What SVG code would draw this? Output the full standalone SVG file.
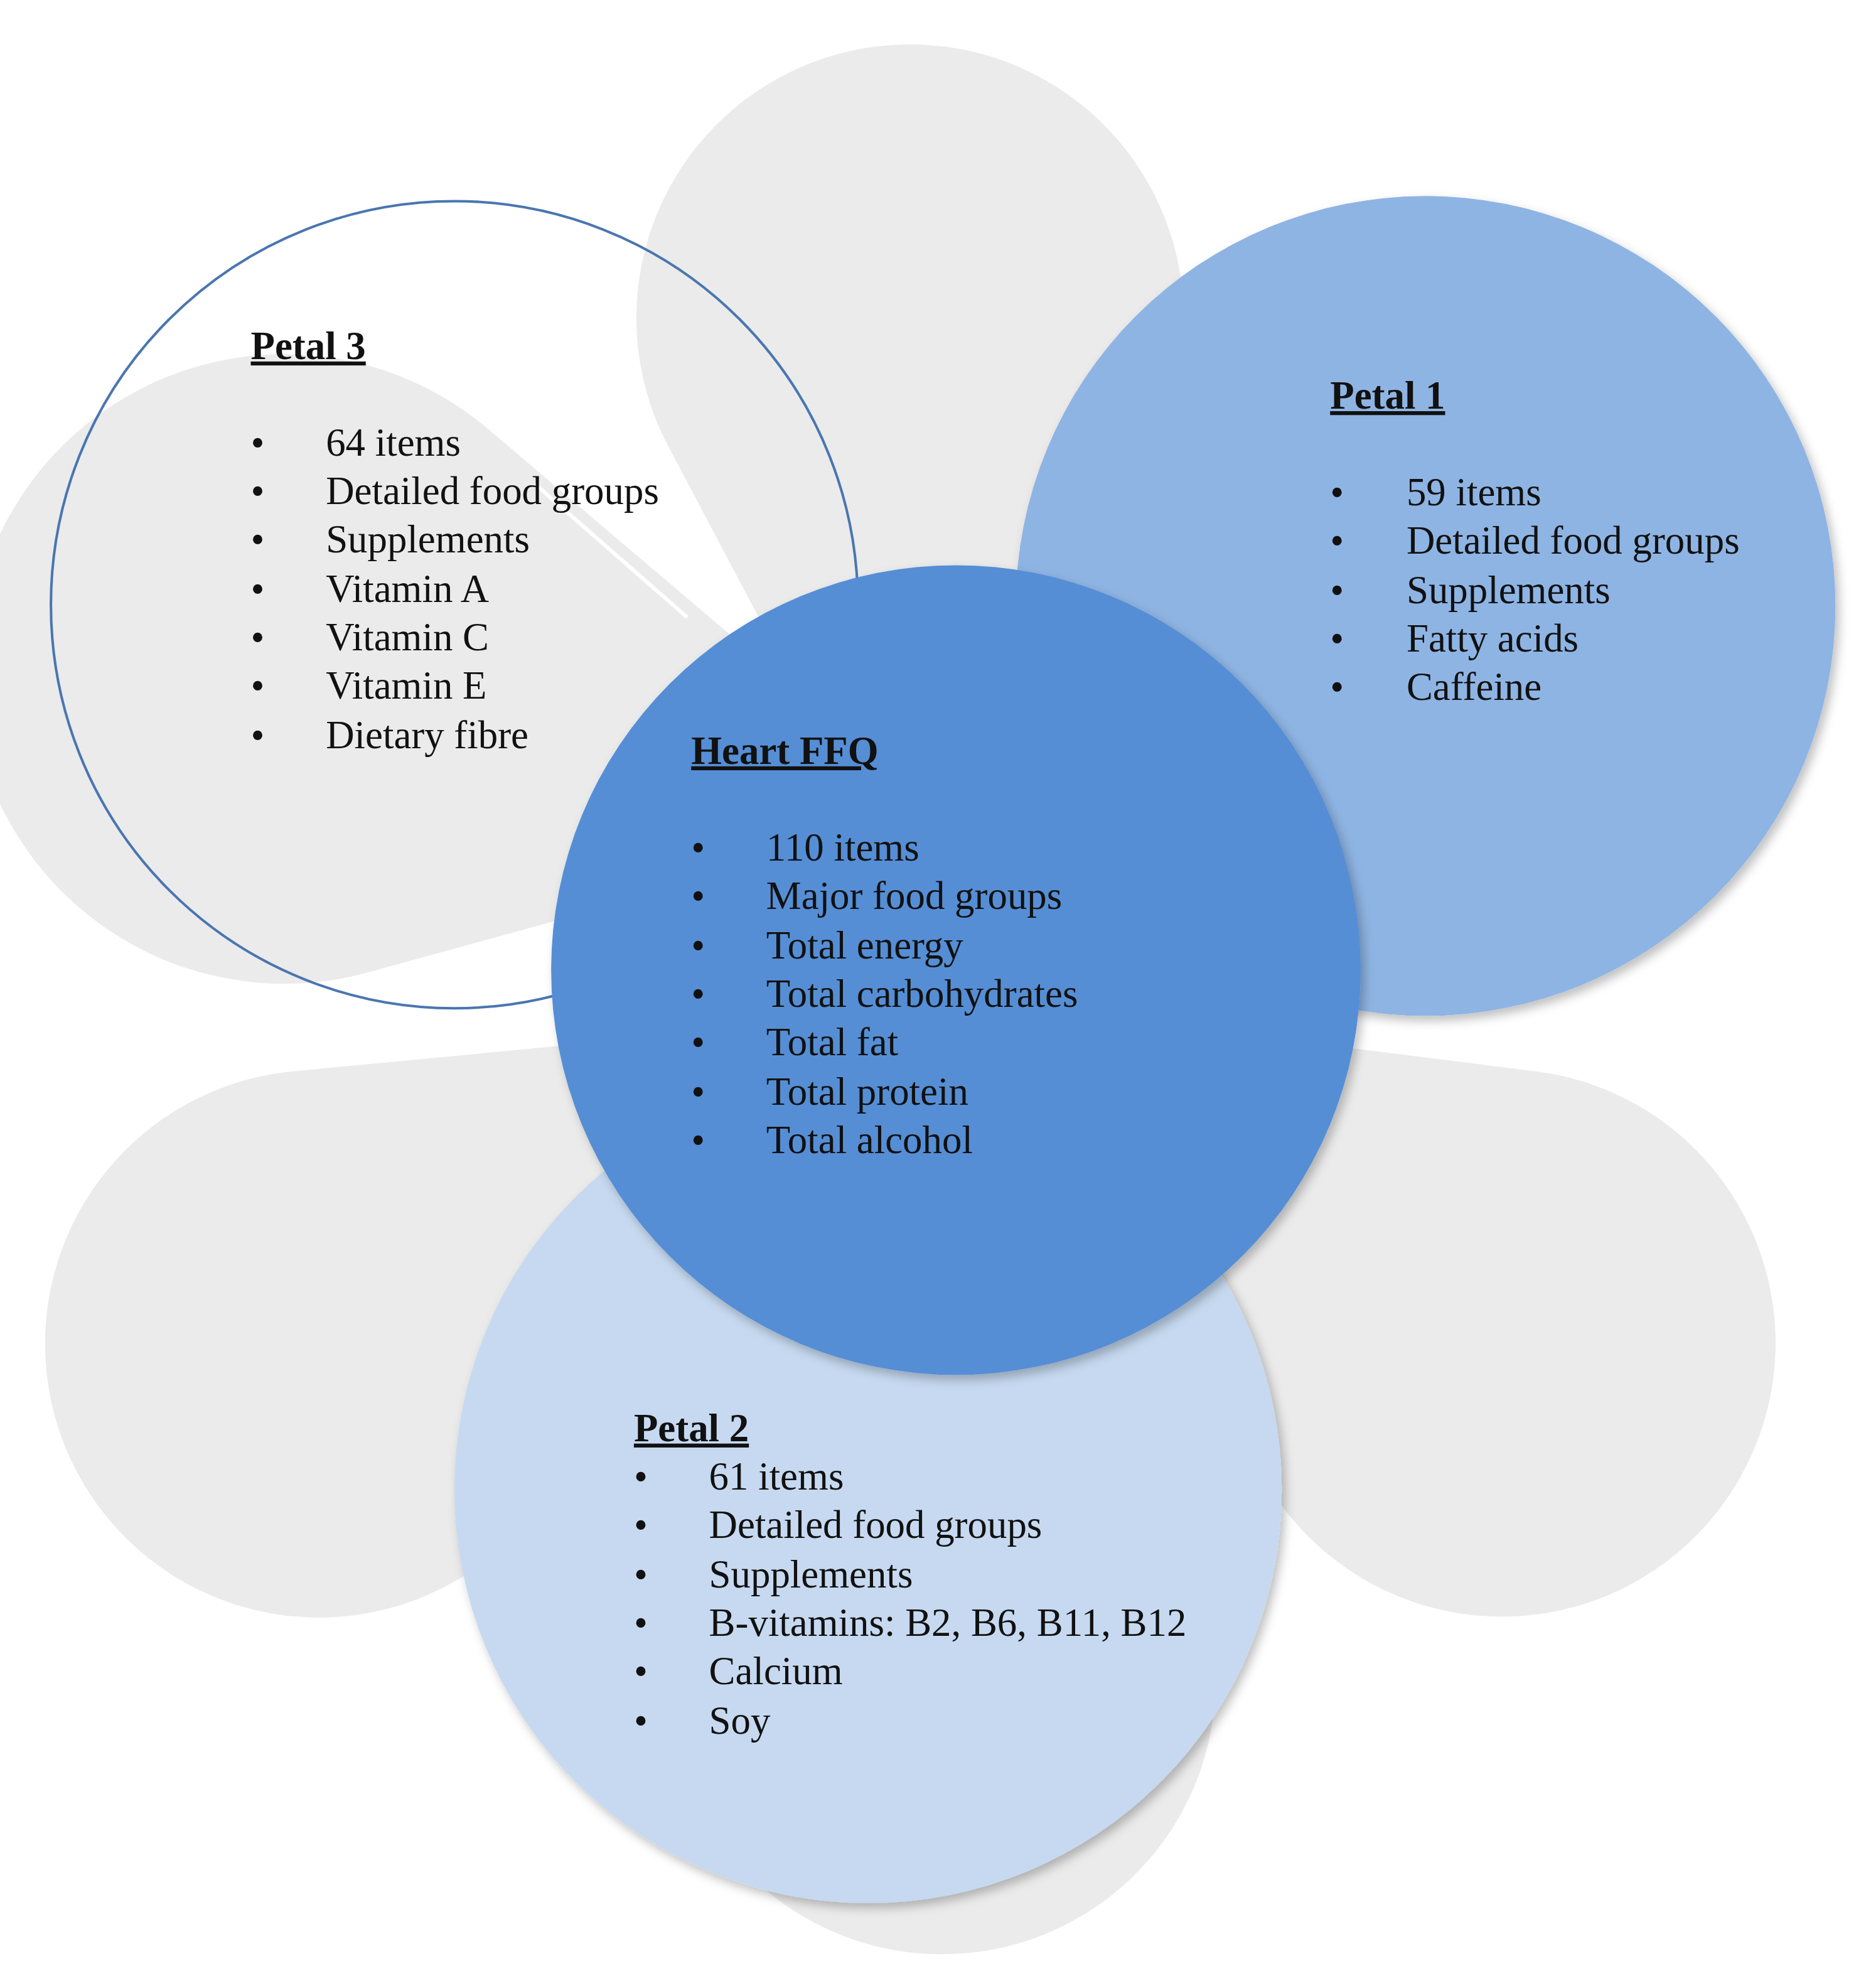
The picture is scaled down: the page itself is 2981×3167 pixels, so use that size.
<svg xmlns="http://www.w3.org/2000/svg" width="2981" height="3167" viewBox="0 0 2981 3167">
<style>
.t{font-family:"Liberation Serif","DejaVu Serif",serif;font-size:31px;fill:#111}
.h{font-weight:bold;text-decoration:underline}
</style>
<defs>
<path id="tear" d="M0,0 L-190,-359.5 A215,215 0 1 1 190,-359.5 Z" fill="#ebebeb"/>
<filter id="sh" x="-10%" y="-10%" width="120%" height="120%"><feDropShadow dx="3" dy="4" stdDeviation="4" flood-color="#000" flood-opacity="0.25"/></filter>
</defs>
<rect width="2981" height="3167" fill="#fff"/>
<g transform="scale(2.028)">
<g id="flower">
<use href="#tear" transform="translate(715,710)"/>
<use href="#tear" transform="translate(740,640) rotate(-77.5) scale(1.15)"/>
<use href="#tear" transform="translate(740,640) rotate(77.5)"/>
<use href="#tear" transform="translate(635,803) rotate(-123.3)"/>
<use href="#tear" transform="translate(803,791) rotate(125)"/>
<use href="#tear" transform="translate(740,860) rotate(180)"/>
<path d="M420,380 L540,485" stroke="#fff" stroke-width="3"/>
</g>
<g id="petal3">
<circle cx="357" cy="475" r="317" fill="none" stroke="#4a76b0" stroke-width="2"/>
<text class="t h" x="197" y="282">Petal 3</text>
<g class="t">
<text x="197" y="358">•</text><text x="256" y="358">64 items</text>
<text x="197" y="396">•</text><text x="256" y="396">Detailed food groups</text>
<text x="197" y="434">•</text><text x="256" y="434">Supplements</text>
<text x="197" y="473">•</text><text x="256" y="473">Vitamin A</text>
<text x="197" y="511">•</text><text x="256" y="511">Vitamin C</text>
<text x="197" y="549">•</text><text x="256" y="549">Vitamin E</text>
<text x="197" y="588">•</text><text x="256" y="588">Dietary fibre</text>
</g>
</g>
<g id="petal1">
<circle cx="1120" cy="476" r="322" fill="#8eb4e3" filter="url(#sh)"/>
<text class="t h" x="1045" y="321">Petal 1</text>
<g class="t">
<text x="1045" y="397">•</text><text x="1105" y="397">59 items</text>
<text x="1045" y="435">•</text><text x="1105" y="435">Detailed food groups</text>
<text x="1045" y="474">•</text><text x="1105" y="474">Supplements</text>
<text x="1045" y="512">•</text><text x="1105" y="512">Fatty acids</text>
<text x="1045" y="550">•</text><text x="1105" y="550">Caffeine</text>
</g>
</g>
<g id="petal2">
<circle cx="682" cy="1170" r="325" fill="#c6d9f0" filter="url(#sh)"/>
<text class="t h" x="498" y="1132">Petal 2</text>
<g class="t">
<text x="498" y="1170">•</text><text x="557" y="1170">61 items</text>
<text x="498" y="1208">•</text><text x="557" y="1208">Detailed food groups</text>
<text x="498" y="1247">•</text><text x="557" y="1247">Supplements</text>
<text x="498" y="1285">•</text><text x="557" y="1285">B-vitamins: B2, B6, B11, B12</text>
<text x="498" y="1323">•</text><text x="557" y="1323">Calcium</text>
<text x="498" y="1362">•</text><text x="557" y="1362">Soy</text>
</g>
</g>
<g id="heart">
<circle cx="751" cy="762" r="318" fill="#558ed5" filter="url(#sh)"/>
<text class="t h" x="543" y="600">Heart FFQ</text>
<g class="t">
<text x="543" y="676">•</text><text x="602" y="676">110 items</text>
<text x="543" y="714">•</text><text x="602" y="714">Major food groups</text>
<text x="543" y="753">•</text><text x="602" y="753">Total energy</text>
<text x="543" y="791">•</text><text x="602" y="791">Total carbohydrates</text>
<text x="543" y="829">•</text><text x="602" y="829">Total fat</text>
<text x="543" y="868">•</text><text x="602" y="868">Total protein</text>
<text x="543" y="906">•</text><text x="602" y="906">Total alcohol</text>
</g>
</g>
<g id="connectors"/>
</g>
</svg>
